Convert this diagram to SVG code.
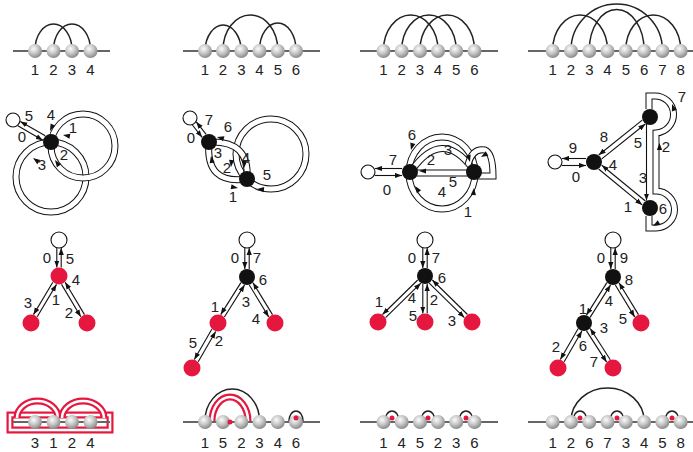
<svg xmlns="http://www.w3.org/2000/svg" xmlns:xlink="http://www.w3.org/1999/xlink" width="693" height="452" viewBox="0 0 693 452">
<defs>
  <radialGradient id="ball" cx="40%" cy="35%" r="65%">
    <stop offset="0" stop-color="#fbfbfb"/>
    <stop offset="0.5" stop-color="#c9c9c9"/>
    <stop offset="1" stop-color="#8a8a8a"/>
  </radialGradient>
  <marker id="ar" markerUnits="userSpaceOnUse" markerWidth="7" markerHeight="6" viewBox="0 0 7 6" refX="7" refY="3" orient="auto">
    <path d="M0,0.4 L7,3 L0,5.6 Z" fill="#111"/>
  </marker>
  <path id="ah" d="M0,0 L-7,-2.6 L-7,2.6 Z" fill="#111"/>
  <style>
    .base{stroke:#666;stroke-width:1.8}
    .arc{fill:none;stroke:#222;stroke-width:1.5}
    .ball{fill:url(#ball)}
    .lbl{font-family:"Liberation Sans",Arial,sans-serif;font-size:15px;fill:#222;text-anchor:middle}
    .tb{fill:none;stroke:#111;stroke-width:7}
    .tw{fill:none;stroke:#fff;stroke-width:5}
    .rb{fill:none;stroke:#e5173f;stroke-width:7}
    .rw{fill:none;stroke:#fff;stroke-width:2.6}
    .e{fill:none;stroke:#111;stroke-width:1.1;marker-end:url(#ar)}
    .wn{fill:#fff;stroke:#111;stroke-width:1.1}
    .bn{fill:#111}
    .rn{fill:#e5173f}
    .rd{fill:#e5173f}
  </style>
</defs>

<!-- ===== Row 1: arc diagrams ===== -->
<g id="arcs-4">
  <line class="base" x1="13" y1="51" x2="110" y2="51"/>
  <path class="arc" d="M35,50 A18.5,26 0 0 1 72,50"/>
  <path class="arc" d="M53.5,50 A18.5,26 0 0 1 90.5,50"/>
  <circle class="ball" cx="35" cy="51" r="7"/><circle class="ball" cx="53.5" cy="51" r="7"/>
  <circle class="ball" cx="72" cy="51" r="7"/><circle class="ball" cx="90.5" cy="51" r="7"/>
  <text class="lbl" x="35" y="75">1</text><text class="lbl" x="53.5" y="75">2</text>
  <text class="lbl" x="72" y="75">3</text><text class="lbl" x="90.5" y="75">4</text>
</g>
<g id="arcs-6a">
  <line class="base" x1="183" y1="51" x2="320" y2="51"/>
  <path class="arc" d="M205,50 A18.2,27 0 0 1 241.3,50"/>
  <path class="arc" d="M223,50 A27.4,35 0 0 1 277.8,50"/>
  <path class="arc" d="M259.5,50 A18.25,27 0 0 1 296,50"/>
  <circle class="ball" cx="205" cy="51" r="7"/><circle class="ball" cx="223" cy="51" r="7"/>
  <circle class="ball" cx="241.3" cy="51" r="7"/><circle class="ball" cx="259.5" cy="51" r="7"/>
  <circle class="ball" cx="277.8" cy="51" r="7"/><circle class="ball" cx="296" cy="51" r="7"/>
  <text class="lbl" x="205" y="75">1</text><text class="lbl" x="223" y="75">2</text>
  <text class="lbl" x="241.3" y="75">3</text><text class="lbl" x="259.5" y="75">4</text>
  <text class="lbl" x="277.8" y="75">5</text><text class="lbl" x="296" y="75">6</text>
</g>
<g id="arcs-6b">
  <line class="base" x1="360" y1="51" x2="498" y2="51"/>
  <path class="arc" d="M383.5,50 A27.25,35 0 0 1 438,50"/>
  <path class="arc" d="M401.7,50 A27.25,35 0 0 1 456.2,50"/>
  <path class="arc" d="M420,50 A27.25,35 0 0 1 474.5,50"/>
  <circle class="ball" cx="383.5" cy="51" r="7"/><circle class="ball" cx="401.7" cy="51" r="7"/>
  <circle class="ball" cx="420" cy="51" r="7"/><circle class="ball" cx="438" cy="51" r="7"/>
  <circle class="ball" cx="456.2" cy="51" r="7"/><circle class="ball" cx="474.5" cy="51" r="7"/>
  <text class="lbl" x="383.5" y="75">1</text><text class="lbl" x="401.7" y="75">2</text>
  <text class="lbl" x="420" y="75">3</text><text class="lbl" x="438" y="75">4</text>
  <text class="lbl" x="456.2" y="75">5</text><text class="lbl" x="474.5" y="75">6</text>
</g>
<g id="arcs-8">
  <line class="base" x1="528" y1="51" x2="693" y2="51"/>
  <path class="arc" d="M552.7,50 A27.4,35 0 0 1 607.5,50"/>
  <path class="arc" d="M571,50 A45.7,46 0 0 1 662.4,50"/>
  <path class="arc" d="M589.3,50 A27.4,40.5 0 0 1 644.1,50"/>
  <path class="arc" d="M625.8,50 A27.45,35 0 0 1 680.7,50"/>
  <circle class="ball" cx="552.7" cy="51" r="7"/><circle class="ball" cx="571" cy="51" r="7"/>
  <circle class="ball" cx="589.3" cy="51" r="7"/><circle class="ball" cx="607.5" cy="51" r="7"/>
  <circle class="ball" cx="625.8" cy="51" r="7"/><circle class="ball" cx="644.1" cy="51" r="7"/>
  <circle class="ball" cx="662.4" cy="51" r="7"/><circle class="ball" cx="680.7" cy="51" r="7"/>
  <text class="lbl" x="552.7" y="75">1</text><text class="lbl" x="571" y="75">2</text>
  <text class="lbl" x="589.3" y="75">3</text><text class="lbl" x="607.5" y="75">4</text>
  <text class="lbl" x="625.8" y="75">5</text><text class="lbl" x="644.1" y="75">6</text>
  <text class="lbl" x="662.4" y="75">7</text><text class="lbl" x="680.7" y="75">8</text>
</g>

<!-- ===== Row 2: tube graphs ===== -->
<g id="tubes-1">
  <circle class="tb" cx="51" cy="177" r="35"/><circle class="tw" cx="51" cy="177" r="35"/>
  <circle class="tb" cx="83" cy="146" r="32"/><circle class="tw" cx="83" cy="146" r="32"/>
  <line class="e" x1="17.8" y1="125.7" x2="42.8" y2="140.2"/>
  <line class="e" x1="45.3" y1="135.8" x2="20.3" y2="121.4"/>
  <use href="#ah" transform="translate(50,131) rotate(115)"/>
  <use href="#ah" transform="translate(63,135) rotate(190)"/>
  <use href="#ah" transform="translate(55,160) rotate(235)"/>
  <use href="#ah" transform="translate(33,158) rotate(215)"/>
  <circle class="wn" cx="13" cy="120" r="7"/>
  <circle class="bn" cx="51" cy="142" r="8"/>
  <text class="lbl" x="29" y="121">5</text><text class="lbl" x="22" y="142">0</text>
  <text class="lbl" x="51" y="120">4</text><text class="lbl" x="73" y="133">1</text>
  <text class="lbl" x="64" y="160">2</text><text class="lbl" x="42" y="170">3</text>
</g>
<g id="tubes-2">
  <circle class="tb" cx="271" cy="154" r="35"/><circle class="tw" cx="271" cy="154" r="35"/>
  <path class="tb" d="M209,142 Q250,140 247,179"/><path class="tw" d="M209,142 Q250,140 247,179"/>
  <path class="tb" d="M209,142 Q205,185 247,179"/><path class="tw" d="M209,142 Q205,185 247,179"/>
  <line class="e" x1="192.4" y1="125" x2="202.1" y2="137.3"/>
  <line class="e" x1="206" y1="134.2" x2="196.3" y2="121.9"/>
  <use href="#ah" transform="translate(217,137) rotate(195)"/>
  <use href="#ah" transform="translate(211,156) rotate(260)"/>
  <use href="#ah" transform="translate(231,167) rotate(95)"/>
  <use href="#ah" transform="translate(244,168) rotate(95)"/>
  <use href="#ah" transform="translate(238,188) rotate(10)"/>
  <use href="#ah" transform="translate(257,189) rotate(185)"/>
  <circle class="wn" cx="190" cy="118" r="7"/>
  <circle class="bn" cx="209" cy="142" r="8"/>
  <circle class="bn" cx="247" cy="179" r="8"/>
  <text class="lbl" x="209" y="125">7</text><text class="lbl" x="191" y="143">0</text>
  <text class="lbl" x="228" y="132">6</text><text class="lbl" x="246" y="163">4</text>
  <text class="lbl" x="218" y="158">3</text><text class="lbl" x="227" y="173">2</text>
  <text class="lbl" x="233" y="202">1</text><text class="lbl" x="267" y="180">5</text>
</g>
<g id="tubes-3">
  <ellipse class="tb" cx="442" cy="173" rx="33" ry="36"/><ellipse class="tw" cx="442" cy="173" rx="33" ry="36"/>
  <path class="tb" d="M412,170 Q442,128 472,168"/><path class="tw" d="M412,170 Q442,128 472,168"/>
  <path class="tb" d="M410,173 L474,173"/><path class="tw" d="M410,173 L474,173"/>
  <path class="tb" d="M468,165 Q472,148 485,150 Q493,153 493,176 L478,176"/><path class="tw" d="M468,165 Q472,148 485,150 Q493,153 493,176 L478,176"/>
  <line class="e" x1="375" y1="175.5" x2="402" y2="175.5"/>
  <line class="e" x1="402" y1="168.5" x2="375" y2="168.5"/>
  <use href="#ah" transform="translate(411,150) rotate(105)"/>
  <use href="#ah" transform="translate(419,171) rotate(180)"/>
  <use href="#ah" transform="translate(415,186) rotate(235)"/>
  <use href="#ah" transform="translate(474,188) rotate(275)"/>
  <use href="#ah" transform="translate(470,162) rotate(75)"/>
  <use href="#ah" transform="translate(481,157) rotate(150)"/>
  <circle class="wn" cx="368" cy="172" r="7"/>
  <circle class="bn" cx="410" cy="172" r="8"/>
  <circle class="bn" cx="474" cy="172" r="8"/>
  <text class="lbl" x="393" y="165">7</text><text class="lbl" x="387" y="195">0</text>
  <text class="lbl" x="412" y="140">6</text><text class="lbl" x="431" y="165">2</text>
  <text class="lbl" x="448" y="155">3</text><text class="lbl" x="453" y="187">5</text>
  <text class="lbl" x="442" y="197">4</text><text class="lbl" x="468" y="217">1</text>
</g>
<g id="tubes-4">
  <path class="tb" d="M649,109 L649,96 L654,96 A18.5,18.5 0 0 1 656,133 L656,191 A18.5,18.5 0 0 1 656,228 L649,228 L649,216"/>
  <path class="tw" d="M649,109 L649,96 L654,96 A18.5,18.5 0 0 1 656,133 L656,191 A18.5,18.5 0 0 1 656,228 L649,228 L649,216"/>
  <line class="e" x1="562" y1="165.5" x2="586" y2="165.5"/>
  <line class="e" x1="586" y1="158.5" x2="562" y2="158.5"/>
  <line class="e" x1="601.8" y1="158.9" x2="645.3" y2="124"/>
  <line class="e" x1="642.2" y1="120.1" x2="598.7" y2="155"/>
  <line class="e" x1="598.6" y1="169" x2="642.2" y2="204.9"/>
  <line class="e" x1="645.4" y1="201" x2="601.8" y2="165.2"/>
  <line class="e" x1="646.5" y1="124" x2="646.5" y2="200.5"/>
  <use href="#ah" transform="translate(672,104) rotate(250)"/>
  <use href="#ah" transform="translate(653,226) rotate(150)"/>
  <use href="#ah" transform="translate(659.5,143) rotate(270)"/>
  <circle class="wn" cx="555" cy="162" r="7"/>
  <circle class="bn" cx="594" cy="162" r="8"/>
  <circle class="bn" cx="650" cy="117" r="8"/>
  <circle class="bn" cx="650" cy="208" r="8"/>
  <text class="lbl" x="573" y="153">9</text><text class="lbl" x="576" y="182">0</text>
  <text class="lbl" x="604" y="142">8</text><text class="lbl" x="638" y="148">5</text>
  <text class="lbl" x="613" y="170">4</text><text class="lbl" x="628" y="212">1</text>
  <text class="lbl" x="643" y="183">3</text><text class="lbl" x="666" y="152">2</text>
  <text class="lbl" x="682" y="102">7</text><text class="lbl" x="663" y="214">6</text>
</g>

<!-- ===== Row 3: trees ===== -->
<g id="tree-1">
  <line class="e" x1="56.8" y1="248" x2="56.8" y2="267.5"/>
  <line class="e" x1="61.2" y1="267.5" x2="61.2" y2="248"/>
  <line class="e" x1="52.8" y1="282.2" x2="33.5" y2="314.6"/>
  <line class="e" x1="37.2" y1="316.8" x2="56.5" y2="284.4"/>
  <line class="e" x1="61.5" y1="284.4" x2="80.8" y2="316.8"/>
  <line class="e" x1="84.5" y1="314.6" x2="65.2" y2="282.2"/>
  <circle class="wn" cx="59" cy="240" r="8"/>
  <circle class="rn" cx="59" cy="276" r="8.5"/>
  <circle class="rn" cx="31" cy="323" r="8.5"/>
  <circle class="rn" cx="87" cy="323" r="8.5"/>
  <text class="lbl" x="47" y="263">0</text><text class="lbl" x="70" y="264">5</text>
  <text class="lbl" x="76" y="285">4</text><text class="lbl" x="28" y="308">3</text>
  <text class="lbl" x="56" y="305">1</text><text class="lbl" x="69" y="318">2</text>
</g>
<g id="tree-2">
  <line class="e" x1="244.8" y1="248" x2="244.8" y2="269"/>
  <line class="e" x1="249.2" y1="269" x2="249.2" y2="248"/>
  <line class="e" x1="240.9" y1="282.6" x2="220.7" y2="314.6"/>
  <line class="e" x1="224.4" y1="317" x2="244.6" y2="284.9"/>
  <line class="e" x1="249.3" y1="285" x2="268.7" y2="316.9"/>
  <line class="e" x1="272.5" y1="314.6" x2="253" y2="282.7"/>
  <line class="e" x1="211.8" y1="329.3" x2="194.3" y2="359.5"/>
  <line class="e" x1="198.2" y1="361.7" x2="215.7" y2="331.5"/>
  <circle class="wn" cx="247" cy="240" r="8"/>
  <circle class="bn" cx="247" cy="277" r="8"/>
  <circle class="rn" cx="218" cy="323" r="8.5"/>
  <circle class="rn" cx="275" cy="323" r="8.5"/>
  <circle class="rn" cx="192" cy="368" r="8.5"/>
  <text class="lbl" x="235" y="263">0</text><text class="lbl" x="257" y="263">7</text>
  <text class="lbl" x="263" y="285">6</text><text class="lbl" x="215" y="312">1</text>
  <text class="lbl" x="246" y="307">3</text><text class="lbl" x="256" y="324">4</text>
  <text class="lbl" x="193" y="348">5</text><text class="lbl" x="219" y="346">2</text>
</g>
<g id="tree-3">
  <line class="e" x1="422.8" y1="248" x2="422.8" y2="268"/>
  <line class="e" x1="427.2" y1="268" x2="427.2" y2="248"/>
  <line class="e" x1="417.7" y1="280" x2="382.5" y2="314.5"/>
  <line class="e" x1="385.6" y1="317.6" x2="420.8" y2="283.2"/>
  <line class="e" x1="422.8" y1="284" x2="422.8" y2="313.5"/>
  <line class="e" x1="427.2" y1="313.5" x2="427.2" y2="284"/>
  <line class="e" x1="429.2" y1="283.2" x2="464.4" y2="317.6"/>
  <line class="e" x1="467.5" y1="314.5" x2="432.3" y2="280"/>
  <circle class="wn" cx="425" cy="240" r="8"/>
  <circle class="bn" cx="425" cy="276" r="8"/>
  <circle class="rn" cx="378" cy="322" r="8.5"/>
  <circle class="rn" cx="425" cy="322" r="8.5"/>
  <circle class="rn" cx="472" cy="322" r="8.5"/>
  <text class="lbl" x="412" y="263">0</text><text class="lbl" x="436" y="263">7</text>
  <text class="lbl" x="442" y="283">6</text><text class="lbl" x="379" y="307">1</text>
  <text class="lbl" x="412" y="303">4</text><text class="lbl" x="434" y="305">2</text>
  <text class="lbl" x="413" y="321">5</text><text class="lbl" x="452" y="326">3</text>
</g>
<g id="tree-4">
  <line class="e" x1="610.8" y1="248" x2="610.8" y2="269"/>
  <line class="e" x1="615.2" y1="269" x2="615.2" y2="248"/>
  <line class="e" x1="606.9" y1="282.6" x2="586.4" y2="315.1"/>
  <line class="e" x1="590.1" y1="317.4" x2="610.6" y2="284.9"/>
  <line class="e" x1="615.3" y1="285" x2="634.7" y2="316.9"/>
  <line class="e" x1="638.5" y1="314.6" x2="619" y2="282.7"/>
  <line class="e" x1="578.1" y1="328.8" x2="560.3" y2="359.5"/>
  <line class="e" x1="564.2" y1="361.7" x2="581.9" y2="331"/>
  <line class="e" x1="586.5" y1="330.9" x2="606.6" y2="362.1"/>
  <line class="e" x1="610.3" y1="359.7" x2="590.2" y2="328.5"/>
  <circle class="wn" cx="613" cy="240" r="8"/>
  <circle class="bn" cx="613" cy="277" r="8"/>
  <circle class="bn" cx="584" cy="323" r="8"/>
  <circle class="rn" cx="641" cy="323" r="8.5"/>
  <circle class="rn" cx="558" cy="368" r="8.5"/>
  <circle class="rn" cx="613" cy="368" r="8.5"/>
  <text class="lbl" x="601" y="263">0</text><text class="lbl" x="624" y="263">9</text>
  <text class="lbl" x="629" y="285">8</text><text class="lbl" x="609" y="306">4</text>
  <text class="lbl" x="583" y="314">1</text><text class="lbl" x="623" y="324">5</text>
  <text class="lbl" x="604" y="333">3</text><text class="lbl" x="556" y="352">2</text>
  <text class="lbl" x="583" y="351">6</text><text class="lbl" x="594" y="367">7</text>
</g>

<!-- ===== Row 4: arc diagrams with highlighted parts ===== -->
<g id="arcs-red-4">
  <rect class="rb" x="10" y="415" width="100" height="15"/><rect class="rw" x="10" y="415" width="100" height="15"/>
  <path class="rb" d="M17,418 A20.5,17 0 0 1 58,418"/><path class="rw" d="M17,418 A20.5,17 0 0 1 58,418"/>
  <path class="rb" d="M62,418 A21,17 0 0 1 104,418"/><path class="rw" d="M62,418 A21,17 0 0 1 104,418"/>
  <line class="base" x1="13" y1="422" x2="110" y2="422"/>
  <circle class="ball" cx="35" cy="422" r="7"/><circle class="ball" cx="53.5" cy="422" r="7"/>
  <circle class="ball" cx="72" cy="422" r="7"/><circle class="ball" cx="90.5" cy="422" r="7"/>
  <text class="lbl" x="35" y="448">3</text><text class="lbl" x="53.5" y="448">1</text>
  <text class="lbl" x="72" y="448">2</text><text class="lbl" x="90.5" y="448">4</text>
</g>
<g id="arcs-red-6a">
  <line class="base" x1="183" y1="422" x2="320" y2="422"/>
  <path class="arc" d="M205,421 A27.25,32 0 0 1 259.5,421"/>
  <path class="rb" d="M212,421 A18,24 0 0 1 248,421"/><path class="rw" d="M212,421 A18,24 0 0 1 248,421"/>
  <path class="arc" d="M289,421 A7,10 0 0 1 303,421"/>
  <circle class="ball" cx="205" cy="422" r="7"/><circle class="ball" cx="223" cy="422" r="7"/>
  <circle class="ball" cx="241.3" cy="422" r="7"/><circle class="ball" cx="259.5" cy="422" r="7"/>
  <circle class="ball" cx="277.8" cy="422" r="7"/><circle class="ball" cx="296" cy="422" r="7"/>
  <circle class="rd" cx="230" cy="422" r="2.5"/><circle class="rd" cx="296" cy="418" r="2.5"/>
  <text class="lbl" x="205" y="448">1</text><text class="lbl" x="223" y="448">5</text>
  <text class="lbl" x="241.3" y="448">2</text><text class="lbl" x="259.5" y="448">3</text>
  <text class="lbl" x="277.8" y="448">4</text><text class="lbl" x="296" y="448">6</text>
</g>
<g id="arcs-red-6b">
  <line class="base" x1="360" y1="422" x2="498" y2="422"/>
  <path class="arc" d="M385,421 A7,10 0 0 1 399,421"/>
  <path class="arc" d="M421,421 A7,10 0 0 1 435,421"/>
  <path class="arc" d="M459,421 A7,10 0 0 1 473,421"/>
  <circle class="ball" cx="383.5" cy="422" r="7"/><circle class="ball" cx="401.7" cy="422" r="7"/>
  <circle class="ball" cx="420" cy="422" r="7"/><circle class="ball" cx="438" cy="422" r="7"/>
  <circle class="ball" cx="456.2" cy="422" r="7"/><circle class="ball" cx="474.5" cy="422" r="7"/>
  <circle class="rd" cx="392" cy="418" r="2.5"/><circle class="rd" cx="428" cy="418" r="2.5"/><circle class="rd" cx="466" cy="418" r="2.5"/>
  <text class="lbl" x="383.5" y="448">1</text><text class="lbl" x="401.7" y="448">4</text>
  <text class="lbl" x="420" y="448">5</text><text class="lbl" x="438" y="448">2</text>
  <text class="lbl" x="456.2" y="448">3</text><text class="lbl" x="474.5" y="448">6</text>
</g>
<g id="arcs-red-8">
  <line class="base" x1="528" y1="422" x2="693" y2="422"/>
  <path class="arc" d="M571,421 A36.5,33 0 0 1 644.1,421"/>
  <path class="arc" d="M573,421 A7,10 0 0 1 587,421"/>
  <path class="arc" d="M610,421 A7,10 0 0 1 624,421"/>
  <path class="arc" d="M665,421 A7,10 0 0 1 679,421"/>
  <circle class="ball" cx="552.7" cy="422" r="7"/><circle class="ball" cx="571" cy="422" r="7"/>
  <circle class="ball" cx="589.3" cy="422" r="7"/><circle class="ball" cx="607.5" cy="422" r="7"/>
  <circle class="ball" cx="625.8" cy="422" r="7"/><circle class="ball" cx="644.1" cy="422" r="7"/>
  <circle class="ball" cx="662.4" cy="422" r="7"/><circle class="ball" cx="680.7" cy="422" r="7"/>
  <circle class="rd" cx="580" cy="418" r="2.5"/><circle class="rd" cx="617" cy="418" r="2.5"/><circle class="rd" cx="672" cy="418" r="2.5"/>
  <text class="lbl" x="552.7" y="448">1</text><text class="lbl" x="571" y="448">2</text>
  <text class="lbl" x="589.3" y="448">6</text><text class="lbl" x="607.5" y="448">7</text>
  <text class="lbl" x="625.8" y="448">3</text><text class="lbl" x="644.1" y="448">4</text>
  <text class="lbl" x="662.4" y="448">5</text><text class="lbl" x="680.7" y="448">8</text>
</g>
</svg>
